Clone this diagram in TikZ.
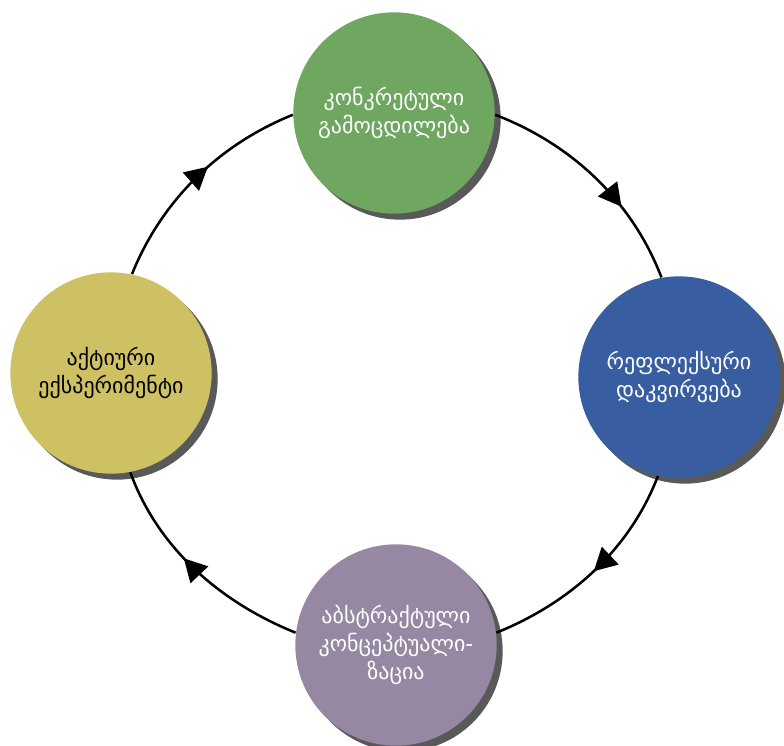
\documentclass[tikz,border=0pt]{standalone}
\usepackage{fontspec}
\newfontfamily\kafont{DejaVu Sans}
\usetikzlibrary{arrows.meta,decorations.markings,shadows}

\definecolor{stageGreen}{RGB}{111,166,96}
\definecolor{stageBlue}{RGB}{56,93,160}
\definecolor{stagePurple}{RGB}{150,136,163}
\definecolor{stageYellow}{RGB}{206,193,99}

\tikzset{every picture/.style={line width=0.75pt}}
\tikzset{
  stage/.style={circle, minimum size=151pt, inner sep=0pt, align=center,
    font=\kafont\fontsize{16.5}{21}\selectfont,
    drop shadow={shadow xshift=4.5pt, shadow yshift=-4.5pt, fill=black, opacity=0.65}},
  cycleflow/.style={line width=1.9pt, looseness=0.9, postaction={decorate},
    decoration={markings, mark=at position #1 with {\arrow{Triangle[length=17pt,width=18pt]}}}},
  cycleflow/.default=0.56
}

\begin{document}
\begin{tikzpicture}[x=0.75pt,y=0.75pt,yscale=-1,xscale=1]
\useasboundingbox (0,0) rectangle (784,745);

%Shape: Circle
\node [stage, fill=stageGreen, text=white] (concrete) at (394,113) {კონკრეტული\\გამოცდილება};
%Shape: Circle
\node [stage, fill=stageBlue, text=white] (reflect) at (679,377) {რეფლექსური\\დაკვირვება};
%Shape: Circle
\node [stage, fill=stagePurple, text=white] (abstract) at (396,645) {აბსტრაქტული\\კონცეპტუალი-\\ზაცია};
%Shape: Circle
\node [stage, fill=stageYellow, text=black] (active) at (111,373) {აქტიური\\ექსპერიმენტი};

%Curve Lines
\draw [cycleflow=0.66] (concrete.-1) to [out=21,in=-111] (reflect.100);
\draw [cycleflow=0.5] (reflect.-102) to [out=111,in=-22] (abstract.7);
\draw [cycleflow=0.57] (abstract.173) to [out=-158,in=70] (active.-79);
\draw [cycleflow=0.57] (active.78) to [out=-68,in=158] (concrete.181);
\end{tikzpicture}
\end{document}
